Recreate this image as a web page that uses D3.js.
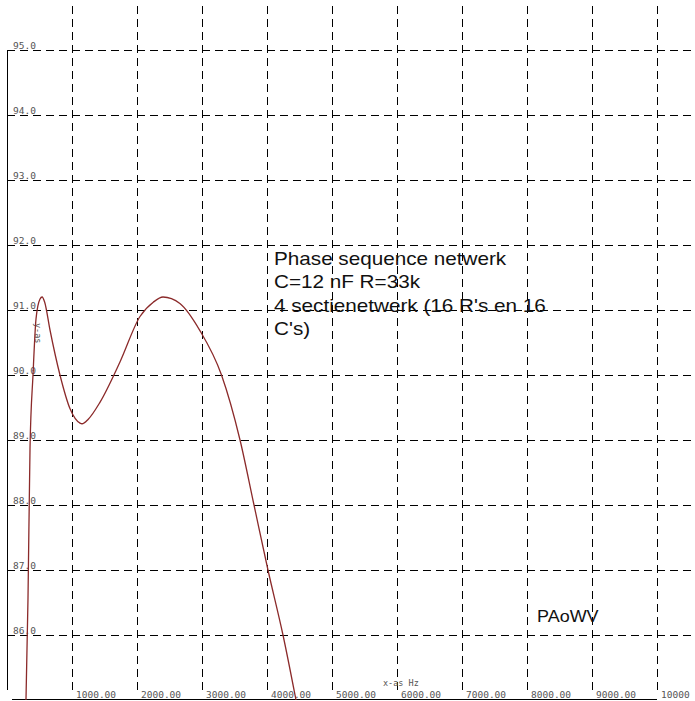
<!DOCTYPE html>
<html>
<head>
<meta charset="utf-8">
<script src="https://cdn.jsdelivr.net/npm/d3@7"></script>
<style>
  body { margin: 0; background: #fff; }
  svg { display: block; }
</style>
</head>
<body>
<div id="chart"></div>
<script>
// Frequency (Hz) and phase values
const freqHz = [292, 323, 354, 400, 446, 508, 540, 580, 660, 815, 970, 1123, 1154, 1250, 1430, 1738, 2046, 2250, 2400, 2660, 2970, 3300, 3585, 3800, 4015, 4246, 4446];
const phase  = [85.0, 86.56, 88.87, 90.0, 90.86, 91.17, 91.2, 91.12, 90.7, 90.0, 89.48, 89.26, 89.25, 89.32, 89.58, 90.2, 90.9, 91.12, 91.2, 91.1, 90.68, 90.0, 89.0, 88.0, 87.0, 86.0, 85.0];
const xTicks = [1000, 2000, 3000, 4000, 5000, 6000, 7000, 8000, 9000, 10000];
const yTicks = [86, 87, 88, 89, 90, 91, 92, 93, 94, 95];
const notes = ["Phase sequence netwerk", "C=12 nF R=33k", "4 sectienetwerk (16 R's en 16", "C's)"];

const width = 695, height = 701;

const svg = d3.select("#chart").append("svg")
    .attr("width", width)
    .attr("height", height);

const x = d3.scaleLinear().domain([0, 10000]).range([7, 657]);
const y = d3.scaleLinear().domain([85, 95]).range([700, 50]);

const mono = "'DejaVu Sans Mono', 'Liberation Mono', monospace";

// vertical grid lines
svg.append("g").selectAll("line")
    .data(xTicks)
    .enter().append("line")
    .attr("x1", d => Math.round(x(d)) + 0.5)
    .attr("x2", d => Math.round(x(d)) + 0.5)
    .attr("y1", 6)
    .attr("y2", 692)
    .attr("stroke", "#000")
    .attr("stroke-dasharray", "8,5");

// horizontal grid lines
svg.append("g").selectAll("line")
    .data(yTicks)
    .enter().append("line")
    .attr("x1", 7)
    .attr("x2", width)
    .attr("y1", d => Math.round(y(d)) + 0.5)
    .attr("y2", d => Math.round(y(d)) + 0.5)
    .attr("stroke", "#000")
    .attr("stroke-dasharray", "8,5");

// axes lines
svg.append("line")
    .attr("x1", 7.5).attr("x2", 7.5)
    .attr("y1", y(95)).attr("y2", 690)
    .attr("stroke", "#000");
svg.append("line")
    .attr("x1", 12).attr("x2", 657)
    .attr("y1", 699.5).attr("y2", 699.5)
    .attr("stroke", "#000");

// y tick labels
svg.append("g").selectAll("text")
    .data(yTicks)
    .enter().append("text")
    .attr("x", 13)
    .attr("y", d => Math.round(y(d)) - 1)
    .attr("font-family", mono)
    .attr("font-size", "9.5px")
    .attr("fill", "#555")
    .text(d => d.toFixed(1));

// x tick labels
svg.append("g").selectAll("text")
    .data(xTicks)
    .enter().append("text")
    .attr("x", d => x(d) + 4)
    .attr("y", 698)
    .attr("font-family", mono)
    .attr("font-size", "9.5px")
    .attr("fill", "#555")
    .text(d => d === 10000 ? "10000" : d.toFixed(2));

// axis titles
svg.append("text")
    .attr("x", 383)
    .attr("y", 686)
    .attr("font-family", mono)
    .attr("font-size", "8.5px")
    .attr("fill", "#555")
    .text("x-as Hz");

svg.append("text")
    .attr("transform", "translate(35,323) rotate(90)")
    .attr("font-family", mono)
    .attr("font-size", "8.5px")
    .attr("fill", "#555")
    .text("y-as");

// curve
const line = d3.line()
    .x((d, i) => x(freqHz[i]))
    .y(d => y(d))
    .curve(d3.curveMonotoneX);

svg.append("path")
    .datum(phase)
    .attr("fill", "none")
    .attr("stroke", "#8b2a2a")
    .attr("stroke-width", 1.3)
    .attr("d", line);

// annotation (glyphs in the original are slightly wider than Arial)
svg.append("g")
    .attr("transform", "translate(274,0) scale(1.15,1)")
    .selectAll("text")
    .data(notes)
    .enter().append("text")
    .attr("x", 0)
    .attr("y", (d, i) => 265 + i * 23.5)
    .attr("font-family", "'Liberation Sans', Arial, sans-serif")
    .attr("font-size", "18px")
    .attr("fill", "#111")
    .text(d => d);

svg.append("text")
    .attr("transform", "translate(537,622) scale(1.09,1)")
    .attr("font-family", "'Liberation Sans', Arial, sans-serif")
    .attr("font-size", "16.5px")
    .attr("fill", "#111")
    .text("PAoWV");
</script>
</body>
</html>
